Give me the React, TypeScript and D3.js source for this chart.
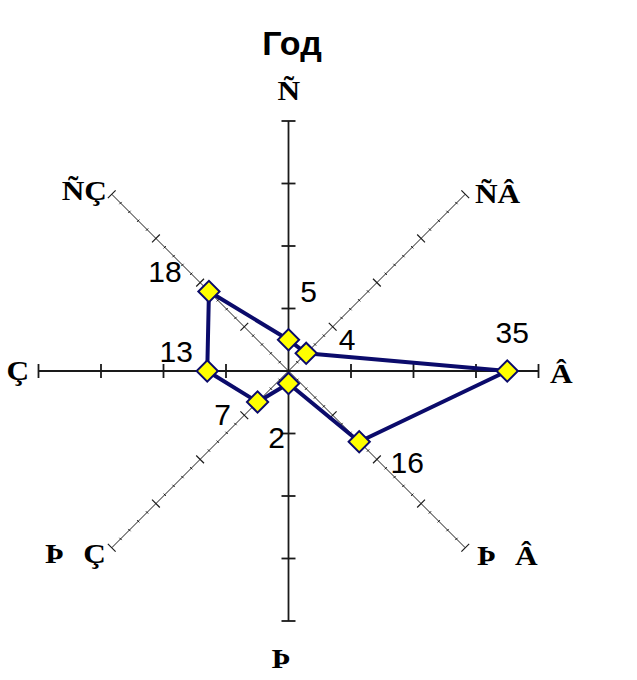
import React from "react";
import * as d3 from "d3";

// wind directions as they appear in the chart (cp1251 text shown as latin-1)
const directions = ["Ñ", "ÑÂ", "Â", "ÞÂ", "Þ", "ÞÇ", "Ç", "ÑÇ"];
const values = [5, 4, 35, 16, 2, 7, 13, 18];
const ticks = [10, 20, 30, 40];
const minorTicks = d3.range(2, 40, 2).filter((t) => t % 10 !== 0);
const title = "Год";

const width = 637;
const height = 680;
const cx = 288.5;
const cy = 371;

// label placement: offset from axis end (category) / from point (value)
const catOffsets: [number, number][] = [
  [-11, -21], [9.7, 8.8], [11.5, 12], [11.7, 17],
  [-17, 47], [-66.7, 15], [-32, 9], [-50, 6],
];
// extra gap between the two letters (Cyrillic advance widths)
const catGaps = [0, 0, 0, 19, 0, 19, 0, 0];
const valOffsets: [number, number][] = [
  [20, -38], [41, -3], [5, -28], [48, 31],
  [-12, 64], [-35, 23], [-31, -9], [-44, -9],
];

const serifStretch = 1.12;

function App() {
  const r = d3.scaleLinear().domain([0, 40]).range([0, 250]);
  const angle = (i: number) => (i * Math.PI) / 4;
  const pt = (i: number, v: number): [number, number] => [
    cx + r(v) * Math.sin(angle(i)),
    cy - r(v) * Math.cos(angle(i)),
  ];

  const line = d3
    .lineRadial<number>()
    .angle((_, i) => angle(i))
    .radius((d) => r(d))
    .curve(d3.curveLinearClosed);

  const diamond = d3.symbol(d3.symbolSquare, 225)();

  return (
    <svg
      width={width}
      height={height}
      style={{ position: "absolute", left: 0, top: 0, background: "#fff" }}
    >
      <text
        x={cx + 3.5}
        y={55}
        textAnchor="middle"
        fontFamily="Liberation Sans, Arial, sans-serif"
        fontWeight="bold"
        fontSize={34}
        fill="#000"
      >
        {title}
      </text>

      {/* axes */}
      {directions.map((d, i) => {
        const main = i % 2 === 0;
        const [x1, y1] = pt(i, 40);
        const a = angle(i);
        // perpendicular unit vector
        const px = Math.cos(a);
        const py = Math.sin(a);
        return (
          <g key={d}>
            <line
              x1={cx}
              y1={cy}
              x2={x1}
              y2={y1}
              stroke="#1a1a1a"
              strokeWidth={main ? 1.8 : 1}
            />
            {ticks.map((t) => {
              const [tx, ty] = pt(i, t);
              const h = main ? 7 : 5.5;
              return (
                <line
                  key={t}
                  x1={tx - px * h}
                  y1={ty - py * h}
                  x2={tx + px * h}
                  y2={ty + py * h}
                  stroke="#1a1a1a"
                  strokeWidth={main ? 1.8 : 1.2}
                />
              );
            })}
            {!main &&
              minorTicks.map((t) => {
                const [tx, ty] = pt(i, t);
                return (
                  <line
                    key={t}
                    x1={tx - px * 1.6}
                    y1={ty - py * 1.6}
                    x2={tx + px * 1.6}
                    y2={ty + py * 1.6}
                    stroke="#1a1a1a"
                    strokeWidth={1}
                  />
                );
              })}
          </g>
        );
      })}

      {/* series */}
      <path
        d={line(values) || ""}
        transform={`translate(${cx},${cy})`}
        fill="none"
        stroke="#0b0b6b"
        strokeWidth={4}
        strokeLinejoin="round"
      />
      {values.map((v, i) => {
        const [x, y] = pt(i, v);
        return (
          <path
            key={i}
            d={diamond || ""}
            transform={`translate(${x},${y}) rotate(45)`}
            fill="#ffff00"
            stroke="#0b0b6b"
            strokeWidth={2}
          />
        );
      })}

      {/* value labels */}
      {values.map((v, i) => {
        const [x, y] = pt(i, v);
        return (
          <text
            key={i}
            x={x + valOffsets[i][0]}
            y={y + valOffsets[i][1]}
            textAnchor="middle"
            fontFamily="Liberation Sans, Arial, sans-serif"
            fontSize={30}
            fill="#000"
          >
            {v}
          </text>
        );
      })}

      {/* direction labels */}
      {directions.map((d, i) => {
        const [x, y] = pt(i, 40);
        const lx = x + catOffsets[i][0];
        const ly = y + catOffsets[i][1];
        const chars = Array.from(d);
        return (
          <text
            key={d}
            transform={`translate(${lx},${ly}) scale(${serifStretch},1)`}
            fontFamily="Liberation Serif, Times New Roman, serif"
            fontWeight="bold"
            fontSize={28}
            fill="#000"
          >
            {chars.map((c, k) => (
              <tspan key={k} dx={k > 0 ? catGaps[i] / serifStretch : 0}>
                {c}
              </tspan>
            ))}
          </text>
        );
      })}
    </svg>
  );
}

export default App;
